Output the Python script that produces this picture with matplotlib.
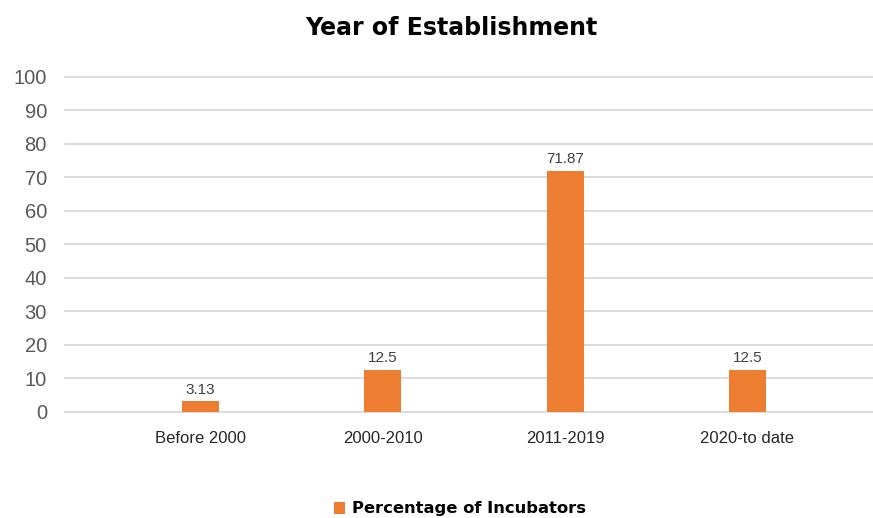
import matplotlib.pyplot as plt
from matplotlib.patches import Patch

# Share of incubators by period of establishment (%)
periods = ['Before 2000', '2000-2010', '2011-2019', '2020-to date']
percentages = [3.13, 12.5, 71.87, 12.5]
series_name = 'Percentage of Incubators'

bar_color = '#ED7D31'
grid_color = '#D9D9D9'

fig = plt.figure(figsize=(8.73, 5.18), dpi=100)
ax = fig.add_axes([65 / 873, 1 - 411.7 / 518, 808 / 873, (411.7 - 76.5) / 518])

x = list(range(len(periods)))
bars = ax.bar(x, percentages, width=0.203, color=bar_color, zorder=3)

# Value labels above each bar
for rect, val in zip(bars, percentages):
    ax.text(rect.get_x() + rect.get_width() / 2, val + 1.3, f'{val:g}',
            ha='center', va='bottom', fontsize=11, color='#404040',
            family='Liberation Sans')

ax.set_xlim(-0.744, 3.69)
ax.set_ylim(0, 100)
ax.set_yticks(range(0, 101, 10))
ax.set_xticks(x)
ax.set_xticklabels(periods)

ax.yaxis.grid(True, color=grid_color, linewidth=1.3, zorder=0)
for gl in ax.get_ygridlines():
    gl.set_clip_on(False)
ax.set_axisbelow(True)

for side in ['top', 'right', 'left', 'bottom']:
    ax.spines[side].set_visible(False)

ax.tick_params(axis='y', length=0, pad=13, labelsize=14.5, labelcolor='#595959')
ax.tick_params(axis='x', length=0, pad=14, labelsize=12, labelcolor='#262626')
for lbl in ax.get_xticklabels() + ax.get_yticklabels():
    lbl.set_family('Liberation Sans')

fig.text(451 / 873, 1 - 28 / 518, 'Year of Establishment', ha='center', va='center',
         fontsize=17, fontweight='bold', family='DejaVu Sans', color='#000000')

handle = Patch(facecolor=bar_color, edgecolor='none')
fig.legend([handle], [series_name], loc='center', bbox_to_anchor=(460 / 873, 1 - 509 / 518),
           frameon=False, handlelength=0.7, handleheight=0.7, handletextpad=0.4,
           prop={'family': 'DejaVu Sans', 'weight': 'bold', 'size': 11.8})

fig.savefig('out.png', dpi=100)
